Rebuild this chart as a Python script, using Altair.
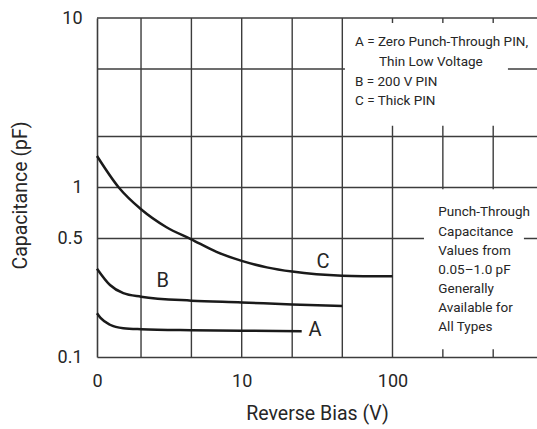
import altair as alt
import pandas as pd

FONT = "Roboto"
INK = "#262626"
GRID = "#3c3c3c"

# Capacitance curves (reverse bias in V, capacitance in pF)
bias_a = [0, 0.073, 0.29, 0.65, 1.25, 4.09, 10, 25.8]
cap_a = [0.181, 0.170, 0.155, 0.148, 0.146, 0.144, 0.143, 0.142]

bias_b = [0, 0.29, 0.65, 1.25, 4.09, 10, 22.3, 47.6]
cap_b = [0.332, 0.266, 0.238, 0.227, 0.215, 0.210, 0.204, 0.200]

bias_c = [0, 0.52, 1.25, 2.41, 4.09, 6.51, 10, 15, 22.3, 47.6, 100]
cap_c = [1.534, 1.0, 0.744, 0.585, 0.495, 0.417, 0.369, 0.338, 0.319, 0.302, 0.299]

# Grid
grid_bias = [1.25, 4.1, 10, 22.3, 47.6, 100, 209, 435]
grid_cap = [0.5, 1, 2, 5, 10]

# Curve tags
tag_text = ["A", "B", "C"]
tag_bias = [31.6, 2.23, 35.6]
tag_cap = [0.144, 0.282, 0.365]

# Key block
key_text = ["A = Zero Punch-Through PIN,", "Thin Low Voltage", "B = 200 V PIN", "C = Thick PIN"]
key_bias = [57.5, 81.9, 57.5, 57.5]
key_cap = [7.19, 5.48, 4.17, 3.22]

# Note block
note_text = ["Punch-Through", "Capacitance", "Values from", "0.05\u20131.0 pF",
             "Generally", "Available for", "All Types"]
note_bias = [195.6] * 7
note_cap = [0.720, 0.548, 0.424, 0.326, 0.252, 0.1945, 0.151]

# White panels behind the text blocks
panel_bias = [49.5, 539, 158.6]
panel_bias2 = [539, 822, 680]
panel_cap = [9.34, 9.34, 0.975]
panel_cap2 = [2.31, 6.13, 0.1112]

curves = pd.concat([
    pd.DataFrame({"series": s, "bias": b, "cap": c})
    for s, b, c in [("A", bias_a, cap_a), ("B", bias_b, cap_b), ("C", bias_c, cap_c)]
])
tags = pd.DataFrame({"label": tag_text, "bias": tag_bias, "cap": tag_cap})
key = pd.DataFrame({"label": key_text, "bias": key_bias, "cap": key_cap})
note = pd.DataFrame({"label": note_text, "bias": note_bias, "cap": note_cap})
panels = pd.DataFrame({"bias": panel_bias, "bias2": panel_bias2,
                       "cap": panel_cap, "cap2": panel_cap2})
vgrid = pd.DataFrame({"bias": grid_bias})
hgrid = pd.DataFrame({"cap": grid_cap})

x_scale = alt.Scale(type="symlog", constant=1.4, domain=[0, 822], nice=False)
y_scale = alt.Scale(type="log", domain=[0.1, 10], nice=False)

x_axis = alt.Axis(
    values=[0, 10, 100], format=".0f", grid=False, ticks=False, tickSize=0,
    labelFlush=False, domainColor=GRID, domainWidth=1.6,
    labelFont=FONT, labelFontSize=18, labelColor=INK, labelPadding=15,
    title="Reverse Bias (V)", titleFont=FONT, titleFontSize=19.5,
    titleFontWeight="normal", titleColor=INK,
    titleX=220, titleY=56, titleBaseline="middle", titleAlign="center",
)
y_axis = alt.Axis(
    values=[0.1, 0.5, 1, 10], format="~g", grid=False, ticks=False, tickSize=0,
    labelFlush=False, domainColor=GRID, domainWidth=1.6,
    labelFont=FONT, labelFontSize=18, labelColor=INK, labelPadding=15,
    title="Capacitance (pF)", titleFont=FONT, titleFontSize=19.5,
    titleFontWeight="normal", titleColor=INK,
    titleX=-77, titleY=177, titleAngle=270, titleBaseline="middle", titleAlign="center",
)


def X(field):
    return alt.X(field, type="quantitative", scale=x_scale, axis=x_axis)


def Y(field):
    return alt.Y(field, type="quantitative", scale=y_scale, axis=y_axis)


vlines = alt.Chart(vgrid).mark_rule(color=GRID, strokeWidth=1.4).encode(x=X("bias"))
hlines = alt.Chart(hgrid).mark_rule(color=GRID, strokeWidth=1.4).encode(y=Y("cap"))

boxes = alt.Chart(panels).mark_rect(fill="white").encode(
    x=X("bias"), x2="bias2", y=Y("cap"), y2="cap2"
)

lines = alt.Chart(curves).mark_line(
    interpolate="monotone", color="#1a1a1a", strokeWidth=2.5
).encode(x=X("bias"), y=Y("cap"), detail="series:N")

tag_marks = alt.Chart(tags).mark_text(
    font=FONT, fontSize=20, color=INK, align="center", baseline="middle"
).encode(x=X("bias"), y=Y("cap"), text="label:N")

key_marks = alt.Chart(key).mark_text(
    font=FONT, fontSize=13.5, color=INK, align="left", baseline="middle"
).encode(x=X("bias"), y=Y("cap"), text="label:N")

note_marks = alt.Chart(note).mark_text(
    font=FONT, fontSize=13.5, color=INK, align="left", baseline="middle"
).encode(x=X("bias"), y=Y("cap"), text="label:N")

chart = alt.layer(
    vlines, hlines, boxes, lines, tag_marks, key_marks, note_marks
).properties(
    width=440, height=339,
    autosize=alt.AutoSizeParams(type="none"),
    padding={"left": 97, "top": 18, "right": 0, "bottom": 72},
    background="white",
).configure_view(stroke=None)

chart.save("out.html", embed_options={"renderer": "svg", "actions": False})
